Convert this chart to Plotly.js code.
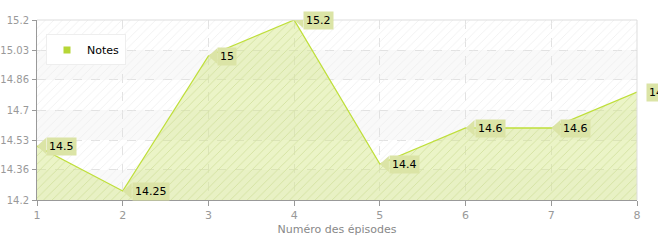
<!DOCTYPE html>
<html>
<head>
<meta charset="utf-8">
<script src="https://cdn.plot.ly/plotly-3.0.1.min.js"></script>
<style>html,body{margin:0;padding:0;background:#fff;}#chart{width:658px;height:240px;}</style>
</head>
<body>
<div id="chart"></div>
<script>
// ---- data ----
const episodes = [1, 2, 3, 4, 5, 6, 7, 8];
const notes = [14.5, 14.25, 15, 15.2, 14.4, 14.6, 14.6, 14.8];
const seriesName = "Notes";
const yTickVals = [14.2, 14.3667, 14.5333, 14.7, 14.8667, 15.0333, 15.2];
const yTickText = ["14.2", "14.36", "14.53", "14.7", "14.86", "15.03", "15.2"];
const xTitle = "Numéro des épisodes";

const yMin = yTickVals[0], yMax = yTickVals[yTickVals.length - 1];
const xMin = episodes[0], xMax = episodes[episodes.length - 1];

const FONT = "DejaVu Sans, Verdana, sans-serif";
const LABEL_BG = "#dbe4a6";

const traces = [
  // hatched plot background
  {
    x: [xMin, xMax], y: [yMax, yMax], type: "scatter", mode: "none",
    fill: "tozeroy", fillcolor: "rgba(0,0,0,0)",
    fillpattern: {shape: "/", fgcolor: "#ececec", bgcolor: "rgba(0,0,0,0)", size: 6, solidity: 0.12},
    showlegend: false, hoverinfo: "skip"
  },
  // area series
  {
    x: episodes, y: notes, type: "scatter", mode: "lines", name: seriesName,
    line: {color: "#bfdf3a", width: 1.3},
    fill: "tozeroy", fillcolor: "rgba(205,225,110,0.45)",
    fillpattern: {shape: "/", fgcolor: "rgba(190,212,110,0.35)", bgcolor: "rgba(210,230,130,0.45)", size: 6, solidity: 0.15},
    showlegend: false, hoverinfo: "x+y"
  },
  // legend entry
  {
    x: [null], y: [null], type: "scatter", mode: "markers", name: seriesName,
    marker: {symbol: "square", size: 7, color: "#b6d636"}, showlegend: true
  }
];

const shapes = [];
// alternating bands
for (let i = 0; i < yTickVals.length - 1; i++) {
  if (i % 2 === 0) {
    shapes.push({type: "rect", xref: "paper", yref: "y", x0: 0, x1: 1,
      y0: yTickVals[i], y1: yTickVals[i + 1], fillcolor: "rgba(0,0,0,0.025)",
      line: {width: 0}, layer: "below"});
  }
}
// top and right border
shapes.push({type: "line", xref: "paper", yref: "paper", x0: 0, x1: 1, y0: 1, y1: 1, line: {color: "#dddddd", width: 1}});
shapes.push({type: "line", xref: "paper", yref: "paper", x0: 1, x1: 1, y0: 0, y1: 1, line: {color: "#dddddd", width: 1}});

const annotations = [];
episodes.forEach((ep, i) => {
  // pointer
  shapes.push({type: "path", xref: "x", yref: "y", xsizemode: "pixel", ysizemode: "pixel",
    xanchor: ep, yanchor: notes[i], path: "M0,0 L9,8 L9,-8 Z",
    fillcolor: LABEL_BG, line: {width: 0}, layer: "above"});
  annotations.push({x: ep, y: notes[i], xref: "x", yref: "y", text: String(notes[i]),
    showarrow: false, xanchor: "left", yanchor: "middle", xshift: 9,
    bgcolor: LABEL_BG, borderpad: 2, font: {family: FONT, size: 11, color: "#000"}});
});

const layout = {
  width: 658, height: 240,
  margin: {l: 37, r: 21, t: 20, b: 40},
  paper_bgcolor: "#ffffff", plot_bgcolor: "#ffffff",
  font: {family: FONT, size: 11, color: "#888"},
  xaxis: {
    range: [xMin, xMax], tickvals: episodes, ticks: "outside", ticklen: 5, tickcolor: "#999",
    showline: true, linecolor: "#999", linewidth: 1,
    showgrid: true, gridcolor: "#e2e2e2", griddash: "dash", zeroline: false,
    tickfont: {family: FONT, size: 11, color: "#999"},
    title: {text: xTitle, font: {family: FONT, size: 11, color: "#888"}, standoff: 4}
  },
  yaxis: {
    range: [yMin, yMax], tickvals: yTickVals, ticktext: yTickText, ticks: "outside", ticklen: 4, tickcolor: "#999",
    showline: true, linecolor: "#999", linewidth: 1, ticklabelstandoff: 1,
    showgrid: true, gridcolor: "#e2e2e2", griddash: "dash", zeroline: false,
    tickfont: {family: FONT, size: 10, color: "#999"}
  },
  showlegend: true,
  legend: {x: 0.015, y: 0.92, xanchor: "left", yanchor: "top", bgcolor: "#ffffff",
    bordercolor: "#eeeeee", borderwidth: 1, itemwidth: 30,
    font: {family: FONT, size: 11, color: "#000"}},
  shapes: shapes,
  annotations: annotations
};

Plotly.newPlot("chart", traces, layout, {displayModeBar: false, staticPlot: true});
</script>
</body>
</html>
